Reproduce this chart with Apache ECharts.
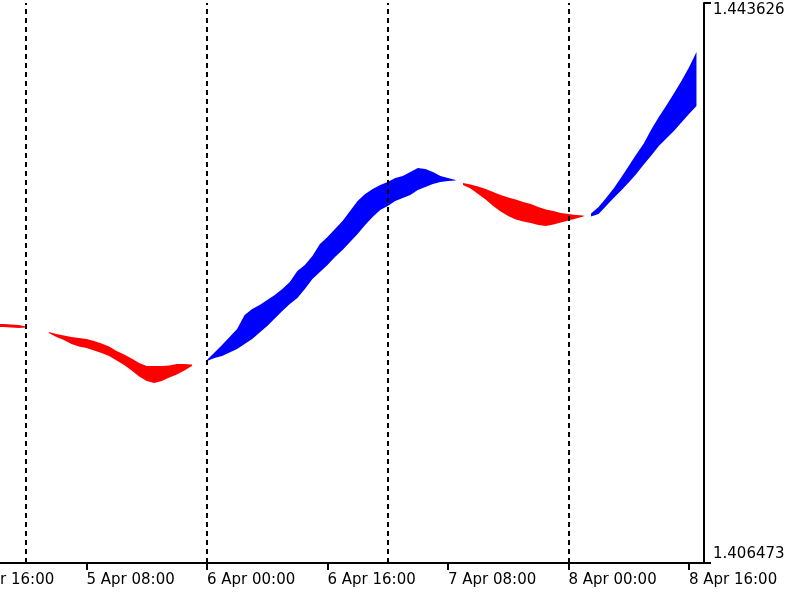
<!DOCTYPE html>
<html>
<head>
    <meta charset="utf-8">
    <title>band</title>
    <style>
        html, body { margin: 0; padding: 0; background: #fff; }
        #main { width: 800px; height: 600px; }
    </style>
</head>
<body>
    <div id="main"></div>
    <script src="https://cdn.jsdelivr.net/npm/echarts@6/dist/echarts.min.js"></script>
    <script>
    // hours counted from 4 Apr 00:00, one value per H1 bar
    var hours = [
        20, 21, 22, 23, 24, 25, 26, 27, 28, 29,
        30, 31, 32, 33, 34, 35, 36, 37, 38, 39,
        40, 41, 42, 43, 44, 45, 46, 47, 48, 49,
        50, 51, 52, 53, 54, 55, 56, 57, 58, 59,
        60, 61, 62, 63, 64, 65, 66, 67, 68, 69,
        70, 71, 72, 73, 74, 75, 76, 77, 78, 79,
        80, 81, 82, 83, 84, 85, 86, 87, 88, 89,
        90, 91, 92, 93, 94, 95, 96, 97, 98, 99,
        100, 101, 102, 103, 104, 105, 106, 107, 108, 109,
        110, 111, 112, 113
    ];
    var bandHigh = [
        1.42233, 1.42233, 1.42230, 1.42226, 1.42216, null, null, 1.42180, 1.42167, 1.42157,
        1.42147, 1.42140, 1.42133, 1.42120, 1.42104, 1.42084, 1.42054, 1.42031, 1.42004, 1.41974,
        1.41954, 1.41954, 1.41954, 1.41958, 1.41968, 1.41968, 1.41964, null, 1.41994, 1.42044,
        1.42094, 1.42147, 1.42200, 1.42293, 1.42332, 1.42359, 1.42392, 1.42425, 1.42465, 1.42512,
        1.42585, 1.42624, 1.42684, 1.42764, 1.42810, 1.42863, 1.42916, 1.42983, 1.43049, 1.43095,
        1.43129, 1.43155, 1.43175, 1.43202, 1.43215, 1.43241, 1.43268, 1.43261, 1.43241, 1.43215,
        1.43202, 1.43188, 1.43168, 1.43158, 1.43145, 1.43129, 1.43109, 1.43089, 1.43072, 1.43059,
        1.43042, 1.43029, 1.43009, 1.42993, 1.42983, 1.42969, 1.42963, 1.42956, 1.42953, 1.42966,
        1.43009, 1.43069, 1.43132, 1.43205, 1.43281, 1.43357, 1.43430, 1.43523, 1.43606, 1.43683,
        1.43762, 1.43845, 1.43935, 1.44038
    ];
    var bandLow = [
        1.42213, 1.42213, 1.42210, 1.42206, 1.42210, null, null, 1.42173, 1.42147, 1.42127,
        1.42100, 1.42084, 1.42074, 1.42057, 1.42041, 1.42021, 1.41991, 1.41961, 1.41924, 1.41885,
        1.41855, 1.41841, 1.41855, 1.41878, 1.41898, 1.41924, 1.41954, null, 1.41987, 1.42007,
        1.42021, 1.42044, 1.42067, 1.42100, 1.42133, 1.42177, 1.42220, 1.42269, 1.42319, 1.42366,
        1.42405, 1.42465, 1.42531, 1.42578, 1.42624, 1.42677, 1.42724, 1.42777, 1.42830, 1.42890,
        1.42943, 1.42989, 1.43016, 1.43049, 1.43069, 1.43089, 1.43122, 1.43142, 1.43162, 1.43175,
        1.43182, 1.43185, 1.43155, 1.43132, 1.43095, 1.43059, 1.43016, 1.42979, 1.42949, 1.42926,
        1.42913, 1.42903, 1.42890, 1.42883, 1.42893, 1.42906, 1.42920, 1.42933, 1.42946, 1.42946,
        1.42963, 1.43016, 1.43069, 1.43119, 1.43172, 1.43228, 1.43291, 1.43351, 1.43414, 1.43464,
        1.43513, 1.43570, 1.43626, 1.43679
    ];
    // u = rising (blue), d = falling (red), '' = nothing drawn
    var bandDir = [
        'd', 'd', 'd', 'd', 'd', '', '', 'd', 'd', 'd',
        'd', 'd', 'd', 'd', 'd', 'd', 'd', 'd', 'd', 'd',
        'd', 'd', 'd', 'd', 'd', 'd', 'd', '', 'u', 'u',
        'u', 'u', 'u', 'u', 'u', 'u', 'u', 'u', 'u', 'u',
        'u', 'u', 'u', 'u', 'u', 'u', 'u', 'u', 'u', 'u',
        'u', 'u', 'u', 'u', 'u', 'u', 'u', 'u', 'u', 'u',
        'u', 'u', 'd', 'd', 'd', 'd', 'd', 'd', 'd', 'd',
        'd', 'd', 'd', 'd', 'd', 'd', 'd', 'd', 'd', 'u',
        'u', 'u', 'u', 'u', 'u', 'u', 'u', 'u', 'u', 'u',
        'u', 'u', 'u', 'u'
    ];
    var tickHours = [16, 32, 48, 64, 80, 96, 112];
    var tickLabels = ['4 Apr 16:00', '5 Apr 08:00', '6 Apr 00:00', '6 Apr 16:00', '7 Apr 08:00', '8 Apr 00:00', '8 Apr 16:00'];
    var dayBreaks = [24, 48, 72, 96];
    var priceTicks = [1.406473, 1.443626];
    var priceLabels = ['1.406473', '1.443626'];

    var colors = { u: '#0000ff', d: '#ff0000' };
    var font = 'DejaVu Sans';

    // split the band into runs of one direction; each run is filled
    // as one polygon between its high and low values
    var runs = [];
    var cur = null;
    hours.forEach(function (h, i) {
        var dir = bandHigh[i] == null ? '' : bandDir[i];
        if (!dir) { cur = null; return; }
        if (!cur || cur.dir !== dir) {
            cur = { dir: dir, pts: [] };
            runs.push(cur);
        }
        cur.pts.push([h, bandLow[i], bandHigh[i]]);
    });

    var series = runs.map(function (r) {
        return {
            type: 'custom',
            silent: true,
            clip: true,
            data: r.pts,
            encode: { x: 0, y: [1, 2] },
            renderItem: function (params, api) {
                if (params.dataIndex !== 0) return;
                var top = r.pts.map(function (p) { return api.coord([p[0], p[2]]); });
                var bottom = r.pts.map(function (p) { return api.coord([p[0], p[1]]); }).reverse();
                return {
                    type: 'polygon',
                    shape: { points: top.concat(bottom) },
                    style: { fill: colors[r.dir], stroke: null }
                };
            }
        };
    });
    series.push({
        type: 'line',
        data: [],
        silent: true,
        z: 5,
        markLine: {
            silent: true,
            symbol: ['none', 'none'],
            label: { show: false },
            lineStyle: { color: '#000', type: [5, 4], width: 2 },
            data: dayBreaks.map(function (d) { return { xAxis: d }; })
        }
    });

    var myChart = echarts.init(document.getElementById('main'));
    myChart.setOption({
        animation: false,
        backgroundColor: '#fff',
        grid: { left: -34, right: 96, top: 3, bottom: 37, containLabel: false, outerBoundsMode: 'none' },
        xAxis: {
            type: 'value',
            min: 16,
            max: 114,
            axisLine: { onZero: false, lineStyle: { color: '#000', width: 2 } },
            axisTick: { customValues: tickHours, length: 7, lineStyle: { color: '#000', width: 2 } },
            splitLine: { show: false },
            axisLabel: {
                customValues: tickHours,
                align: 'left',
                margin: 10,
                color: '#000',
                fontFamily: font,
                fontSize: 15,
                formatter: function (v) {
                    var i = tickHours.indexOf(v);
                    return i < 0 ? '' : tickLabels[i];
                }
            }
        },
        yAxis: {
            type: 'value',
            position: 'right',
            min: priceTicks[0],
            max: priceTicks[1],
            axisLine: { show: true, onZero: false, lineStyle: { color: '#000', width: 2 } },
            axisTick: { show: true, customValues: priceTicks, length: 7, lineStyle: { color: '#000', width: 2 } },
            splitLine: { show: false },
            axisLabel: {
                customValues: priceTicks,
                margin: 9,
                color: '#000',
                fontFamily: font,
                fontSize: 15,
                formatter: function (v) {
                    if (Math.abs(v - priceTicks[1]) < 1e-7) return '{hi|' + priceLabels[1] + '}';
                    return '{lo|' + priceLabels[0] + '}';
                },
                rich: {
                    hi: { padding: [14, 0, 0, 0], fontFamily: font, fontSize: 15, color: '#000' },
                    lo: { padding: [0, 0, 18, 0], fontFamily: font, fontSize: 15, color: '#000' }
                }
            }
        },
        series: series
    });
    </script>
</body>
</html>
